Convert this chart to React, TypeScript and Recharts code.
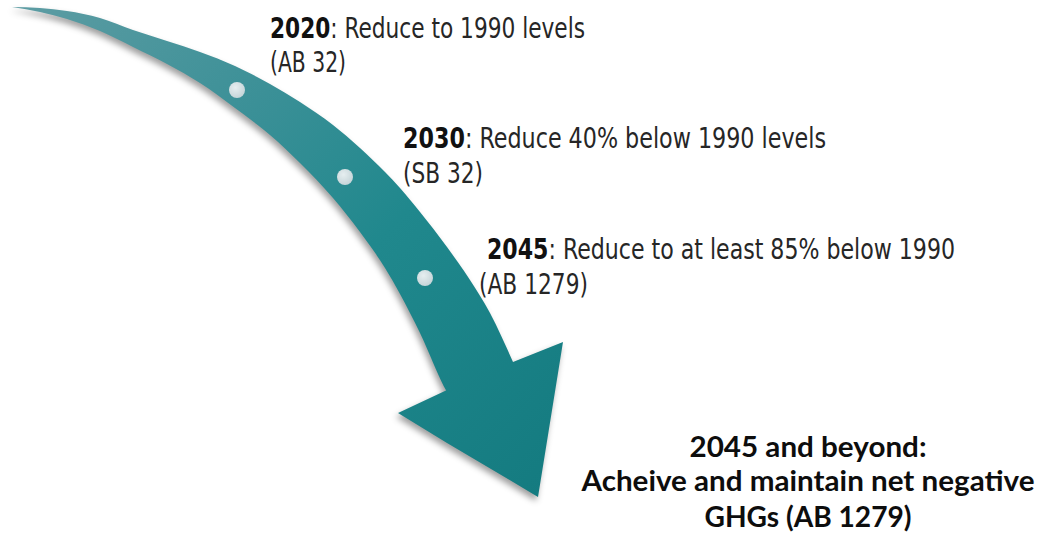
import React from 'react';
import { ComposedChart, Area, Scatter, XAxis, YAxis } from 'recharts';

const W = 1050;
const H = 535;

// Arrow body: outer (upper/right) and inner (lower/left) edges
const bandX = [12, 40, 67, 100, 133, 167, 200, 235, 270, 300, 333, 360, 385, 400, 420, 447, 470, 490, 513];
const bandOuterY = [7, 8, 11, 18, 30, 41, 52, 66, 84, 102, 125, 148, 172, 188, 212, 247, 280, 313, 362];
const bandInnerY = [7, 12, 19, 31, 47, 64, 83, 108, 135, 163, 198, 232, 268, 294, 333, 392, 420, 440, 460];

// Arrow head
const headX = [398, 447, 513, 538, 563];
const headTopY = [413, 390, 362, 352, 342];
const headBottomY = [413, 443, 482, 497, 342];

// Milestone dots
const dotX = [237, 345, 425];
const dotY = [90, 177, 278];

// Milestone labels
const years = ['2020', '2030', '2045'];
const goals = [': Reduce to 1990 levels', ': Reduce 40% below 1990 levels', ': Reduce to at least 85% below 1990'];
const laws = ['(AB 32)', '(SB 32)', '(AB 1279)'];
const goalX = [270, 403, 487];
const goalY = [38, 148, 259];
const goalW = [315, 423, 468];
const lawX = [270, 403, 479];
const lawY = [72, 183, 294];
const lawW = [76, 80, 109];

// Final statement
const finalLines = ['2045 and beyond:', 'Acheive and maintain net negative', 'GHGs (AB 1279)'];
const finalWidths = [237, 453, 207];
const finalX = 808;
const finalY = [457, 491, 527];

const bandData = bandX.map((x, i) => ({ x, band: [bandOuterY[i], bandInnerY[i]] }));
const headData = headX.map((x, i) => ({ x, band: [headTopY[i], headBottomY[i]] }));
const dotData = dotX.map((x, i) => ({ x, y: dotY[i] }));
const goalData = goalX.map((x, i) => ({ x, y: goalY[i], year: years[i], goal: goals[i], w: goalW[i] }));
const lawData = lawX.map((x, i) => ({ x, y: lawY[i], law: laws[i], w: lawW[i] }));
const finalData = finalLines.map((t, i) => ({ x: finalX, y: finalY[i], text: t, w: finalWidths[i] }));

const NARROW = "'DejaVu Sans Condensed', 'DejaVu Sans', sans-serif";

const axes = [
  <XAxis key="x" type="number" dataKey="x" domain={[0, W]} hide allowDataOverflow />,
  <YAxis key="y" type="number" dataKey="y" domain={[0, H]} reversed hide allowDataOverflow />,
];

const DotShape = (p: any) => <circle cx={p.cx} cy={p.cy} r={8} fill="url(#dotGrad)" />;

const GoalShape = (p: any) => (
  <text
    x={p.cx}
    y={p.cy}
    fontFamily={NARROW}
    fontStretch="condensed"
    fontSize={29}
    fill="#262626"
    textLength={p.payload.w}
    lengthAdjust="spacingAndGlyphs"
  >
    <tspan fontWeight="bold" fill="#111">{p.payload.year}</tspan>
    <tspan>{p.payload.goal}</tspan>
  </text>
);

const LawShape = (p: any) => (
  <text
    x={p.cx}
    y={p.cy}
    fontFamily={NARROW}
    fontStretch="condensed"
    fontSize={29}
    fill="#262626"
    textLength={p.payload.w}
    lengthAdjust="spacingAndGlyphs"
  >
    {p.payload.law}
  </text>
);

const FinalShape = (p: any) => (
  <text
    x={p.cx}
    y={p.cy}
    textAnchor="middle"
    fontFamily="Lato, 'Open Sans', sans-serif"
    fontWeight="bold"
    fontSize={29}
    fill="#0d0d0d"
    textLength={p.payload.w}
    lengthAdjust="spacingAndGlyphs"
  >
    {p.payload.text}
  </text>
);

export default function App() {
  return (
    <div style={{ position: 'absolute', left: 0, top: 0, width: W, height: H, background: '#fff', overflow: 'hidden' }}>
      <div style={{ position: 'absolute', left: 0, top: 0, filter: 'drop-shadow(-2px 4px 3px rgba(0,0,0,0.38))' }}>
        <ComposedChart width={W} height={H} margin={{ top: 0, right: 0, bottom: 0, left: 0 }}>
          <defs>
            <linearGradient id="arrowGrad" gradientUnits="userSpaceOnUse" x1={0} y1={0} x2={540} y2={500}>
              <stop offset="0" stopColor="#5f9da4" />
              <stop offset="0.35" stopColor="#3b9097" />
              <stop offset="0.6" stopColor="#20888d" />
              <stop offset="1" stopColor="#147b80" />
            </linearGradient>
            <radialGradient id="dotGrad" cx="0.4" cy="0.35" r="0.7">
              <stop offset="0" stopColor="#e6eef0" />
              <stop offset="1" stopColor="#c3d3d7" />
            </radialGradient>
          </defs>
          {axes}
          <Area
            data={bandData}
            dataKey="band"
            type="monotone"
            stroke="none"
            fill="url(#arrowGrad)"
            fillOpacity={1}
            isAnimationActive={false}
            activeDot={false}
            dot={false}
          />
          <Area
            data={headData}
            dataKey="band"
            type="linear"
            stroke="none"
            fill="url(#arrowGrad)"
            fillOpacity={1}
            isAnimationActive={false}
            activeDot={false}
            dot={false}
          />
          <Scatter data={dotData} dataKey="y" shape={DotShape} isAnimationActive={false} />
        </ComposedChart>
      </div>
      <div style={{ position: 'absolute', left: 0, top: 0 }}>
        <ComposedChart width={W} height={H} margin={{ top: 0, right: 0, bottom: 0, left: 0 }}>
          {axes}
          <Scatter data={goalData} dataKey="y" shape={GoalShape} isAnimationActive={false} />
          <Scatter data={lawData} dataKey="y" shape={LawShape} isAnimationActive={false} />
          <Scatter data={finalData} dataKey="y" shape={FinalShape} isAnimationActive={false} />
        </ComposedChart>
      </div>
    </div>
  );
}
